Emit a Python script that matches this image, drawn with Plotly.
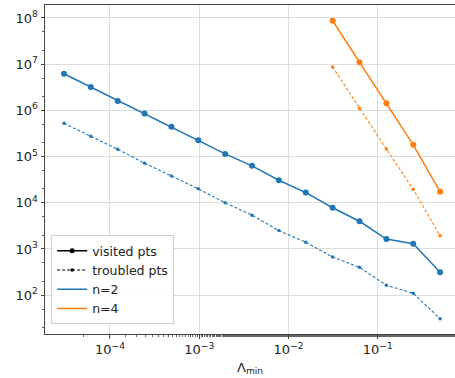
import plotly.graph_objects as go

lam_n2 = [3.0518e-5, 6.1035e-5, 1.2207e-4, 2.4414e-4, 4.8828e-4, 9.7656e-4,
          1.9531e-3, 3.9063e-3, 7.8125e-3, 0.015625, 0.03125, 0.0625, 0.125, 0.25, 0.5]
visited_n2 = [6.2e6, 3.2e6, 1.6e6, 8.6e5, 4.4e5, 2.25e5, 1.14e5, 6.3e4, 3.07e4,
              1.66e4, 7.8e3, 3.98e3, 1.64e3, 1.3e3, 313]
troubled_n2 = [5.25e5, 2.75e5, 1.44e5, 7.2e4, 3.8e4, 2.0e4, 1.0e4, 5.4e3, 2.5e3,
               1.4e3, 670, 400, 164, 110, 31]
lam_n4 = [0.03125, 0.0625, 0.125, 0.25, 0.5]
visited_n4 = [8.7e7, 1.1e7, 1.42e6, 1.8e5, 1.74e4]
troubled_n4 = [8.7e6, 1.1e6, 1.46e5, 1.95e4, 1.94e3]

x_tickvals = [1e-4, 1e-3, 1e-2, 1e-1]
x_ticktext = ["10<sup>−4</sup>", "10<sup>−3</sup>", "10<sup>−2</sup>", "10<sup>−1</sup>"]
y_tickvals = [1e2, 1e3, 1e4, 1e5, 1e6, 1e7, 1e8]
y_ticktext = ["10<sup>%d</sup>" % k for k in range(2, 9)]

BLUE = "#1f77b4"
ORANGE = "#ff7f0e"
DASH = "3px,2px"

fig = go.Figure()

def add(x, y, color, dashed):
    fig.add_trace(go.Scatter(
        x=x, y=y, mode="lines+markers", showlegend=False,
        line=dict(color=color, width=1.5 if not dashed else 1.1,
                  dash=DASH if dashed else "solid"),
        marker=dict(color=color, size=3.5 if dashed else 6, symbol="circle"),
    ))

add(lam_n2, visited_n2, BLUE, False)
add(lam_n2, troubled_n2, BLUE, True)
add(lam_n4, visited_n4, ORANGE, False)
add(lam_n4, troubled_n4, ORANGE, True)

# legend entries
fig.add_trace(go.Scatter(x=[None], y=[None], mode="lines+markers", name="visited pts",
                         line=dict(color="black", width=1.3), marker=dict(color="black", size=5)))
fig.add_trace(go.Scatter(x=[None], y=[None], mode="lines+markers", name="troubled pts",
                         line=dict(color="black", width=1.1, dash=DASH),
                         marker=dict(color="black", size=3.5)))
fig.add_trace(go.Scatter(x=[None], y=[None], mode="lines", name="n=2",
                         line=dict(color=BLUE, width=1.5)))
fig.add_trace(go.Scatter(x=[None], y=[None], mode="lines", name="n=4",
                         line=dict(color=ORANGE, width=1.5)))

font = "DejaVu Sans"
fig.update_layout(
    width=455, height=378,
    margin=dict(l=45, r=0, t=5, b=44),
    paper_bgcolor="white", plot_bgcolor="white",
    font=dict(family=font, size=13, color="#222"),
    showlegend=True,
    legend=dict(x=0.015, y=0.03, xanchor="left", yanchor="bottom",
                bgcolor="rgba(255,255,255,0.85)", bordercolor="#d0d0d0", borderwidth=1,
                font=dict(family=font, size=12.5), tracegroupgap=0, itemwidth=30),
)
fig.update_xaxes(
    type="log", range=[-4.728, -0.134],
    tickvals=x_tickvals, ticktext=x_ticktext,
    showgrid=True, gridcolor="#dcdcdc", gridwidth=1,
    showline=True, linecolor="#444", linewidth=1, mirror=True,
    ticks="outside", ticklen=3.5, tickcolor="#444",
    minor=dict(ticks="outside", ticklen=2, tickcolor="#666", showgrid=False),
    zeroline=False,
    title=dict(text="Λ<sub>min</sub>", font=dict(family=font, size=13), standoff=6),
)
fig.update_yaxes(
    type="log", range=[1.16, 8.28],
    tickvals=y_tickvals, ticktext=y_ticktext,
    showgrid=True, gridcolor="#dcdcdc", gridwidth=1,
    showline=True, linecolor="#444", linewidth=1,
    ticks="outside", ticklen=3.5, tickcolor="#444",
    minor=dict(ticks="outside", ticklen=2, tickcolor="#666", showgrid=False),
    zeroline=False,
)

fig.write_html("out.html")
